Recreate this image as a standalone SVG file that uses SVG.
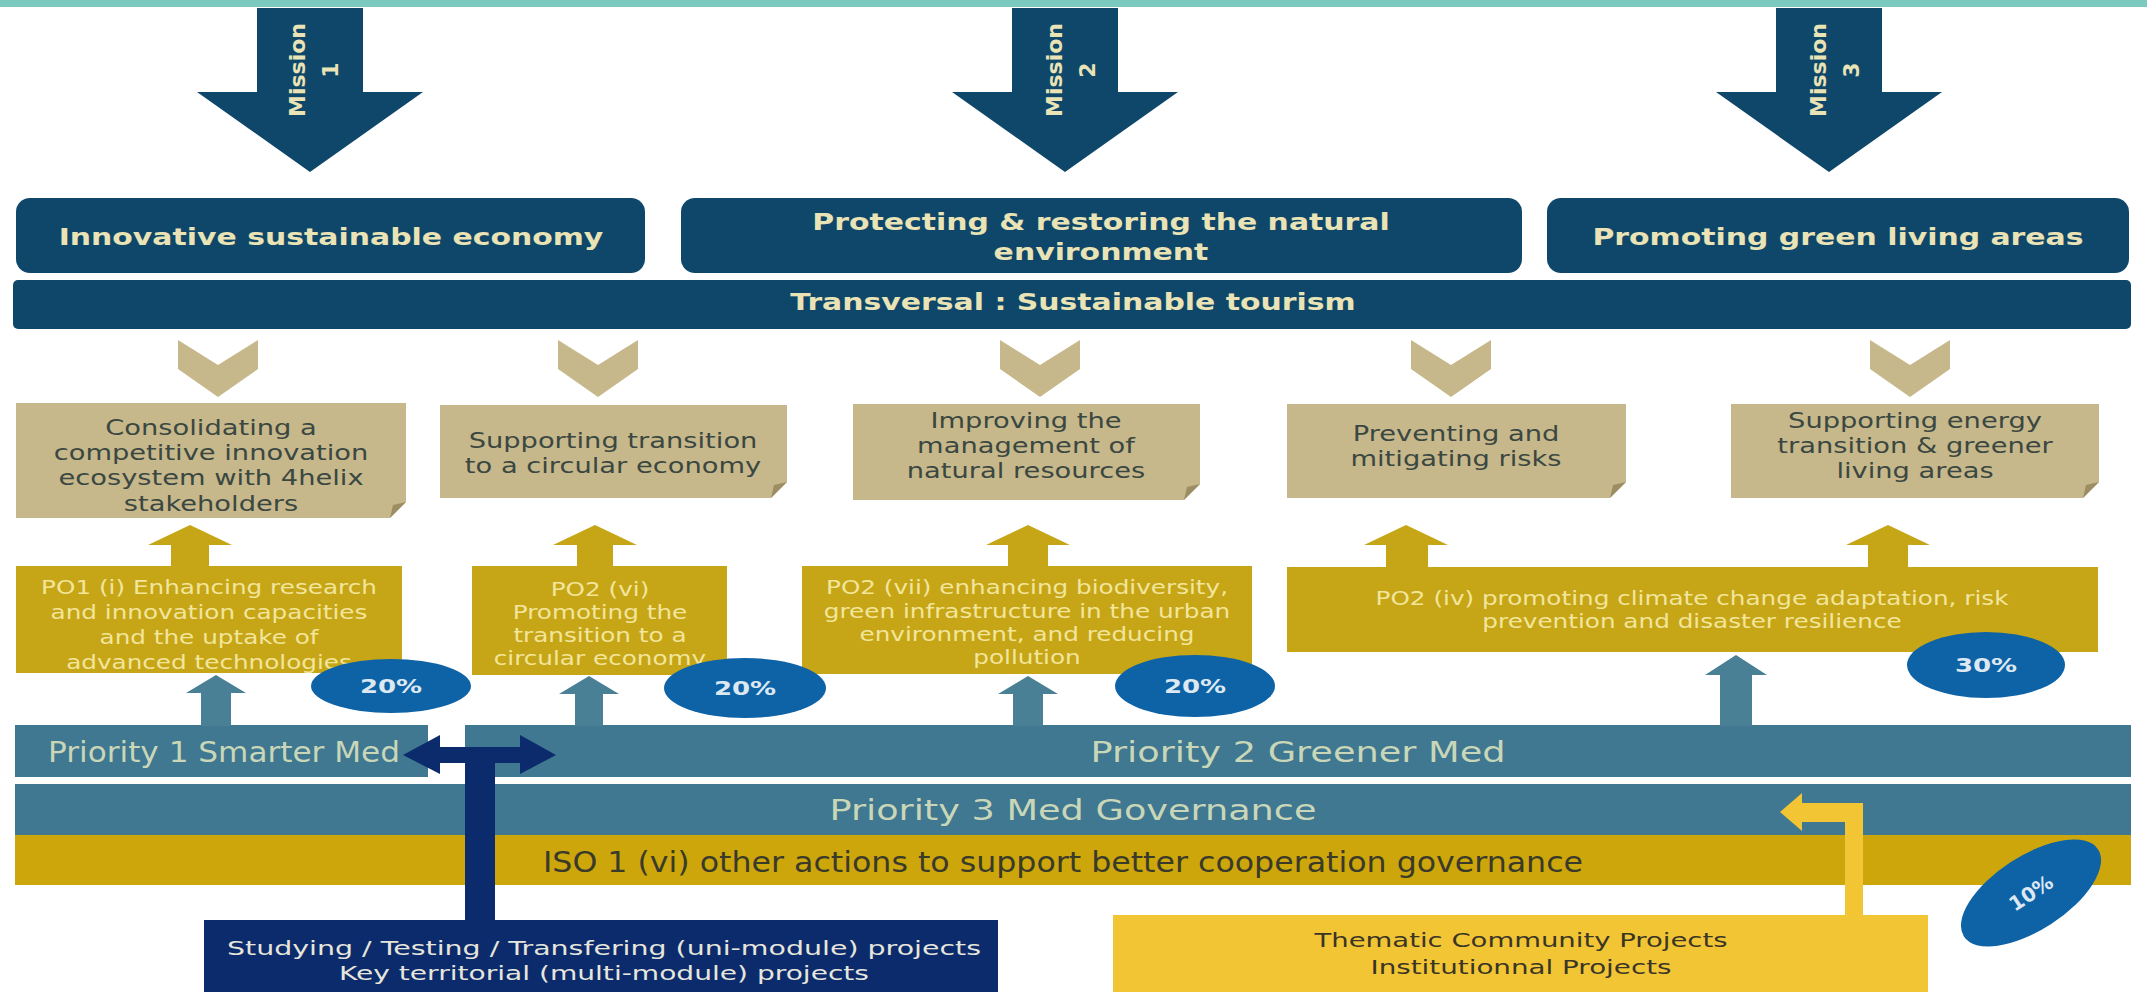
<svg xmlns="http://www.w3.org/2000/svg" width="2147" height="992" viewBox="0 0 2147 992">
<defs>
<style>
.navy{fill:#0f476a}
.cream{fill:#e9e3b6;font-family:"DejaVu Sans","Liberation Sans",sans-serif;font-weight:bold}
.tan{fill:#c6b88b}
.fold{fill:#9c8e62}
.tantext{fill:#3b4741;font-family:"DejaVu Sans","Liberation Sans",sans-serif;font-size:21px}
.gold{fill:#c6a516}
.potext{fill:#f2e59c;font-family:"DejaVu Sans","Liberation Sans",sans-serif;font-size:19px}
.band{fill:#3f7890}
.bandtext{fill:#c9d6b8;font-family:"DejaVu Sans","Liberation Sans",sans-serif;font-size:28px}
.iso{fill:#cda60b}
.tealarrow{fill:#4a8096}
.ell{fill:#0e62a6}
.elltext{fill:#dce8f2;font-family:"DejaVu Sans","Liberation Sans",sans-serif;font-weight:bold;font-size:20px}
.dark{fill:#0c2b6c}
.yellow{fill:#f2c535}
.btext{font-family:"DejaVu Sans","Liberation Sans",sans-serif;font-size:20px}
text{text-anchor:middle}
</style>
</defs>
<rect width="2147" height="992" fill="#ffffff"/>
<rect id="top-band" x="0" y="0" width="2147" height="7" fill="#7ccabf"/>

<g id="mission1">
<path class="navy" d="M257,8 H363 V92 H423 L310,172 L197,92 H257 Z"/>
<g transform="translate(311,70) rotate(-90)">
<text class="cream" x="0" y="-6" font-size="22">Mission</text>
<text class="cream" x="0" y="27" font-size="22">1</text>
</g>
</g>
<g id="mission2">
<path class="navy" d="M1012,8 H1118 V92 H1178 L1065,172 L952,92 H1012 Z"/>
<g transform="translate(1068,70) rotate(-90)">
<text class="cream" x="0" y="-6" font-size="22">Mission</text>
<text class="cream" x="0" y="27" font-size="22">2</text>
</g>
</g>
<g id="mission3">
<path class="navy" d="M1776,8 H1882 V92 H1942 L1829,172 L1716,92 H1776 Z"/>
<g transform="translate(1832,70) rotate(-90)">
<text class="cream" x="0" y="-6" font-size="22">Mission</text>
<text class="cream" x="0" y="27" font-size="22">3</text>
</g>
</g>

<g id="goal-innovative">
<rect class="navy" x="16" y="198" width="629" height="75" rx="14"/>
<g transform="translate(331,0) scale(1.3,1)"><text class="cream" x="0" y="245" font-size="23">Innovative sustainable economy</text></g>
</g>
<g id="goal-protecting">
<rect class="navy" x="681" y="198" width="841" height="75" rx="14"/>
<g transform="translate(1101,0) scale(1.3,1)">
<text class="cream" x="0" y="230" font-size="23">Protecting &amp; restoring the natural</text>
<text class="cream" x="0" y="260" font-size="23">environment</text>
</g>
</g>
<g id="goal-promoting">
<rect class="navy" x="1547" y="198" width="582" height="75" rx="14"/>
<g transform="translate(1838,0) scale(1.3,1)"><text class="cream" x="0" y="245" font-size="23">Promoting green living areas</text></g>
</g>
<g id="transversal">
<rect class="navy" x="13" y="280" width="2118" height="49" rx="5"/>
<g transform="translate(1073,0) scale(1.3,1)"><text class="cream" x="0" y="310" font-size="23">Transversal : Sustainable tourism</text></g>
</g>

<g id="obj1">
<path class="tan" d="M16,403 H406 V502 L390,518 H16 Z"/>
<path class="fold" d="M406,502 L390,518 L393,505 Z"/>
<g transform="translate(211,0) scale(1.3,1)">
<text class="tantext" x="0" y="435">Consolidating a</text>
<text class="tantext" x="0" y="460">competitive innovation</text>
<text class="tantext" x="0" y="485">ecosystem with 4helix</text>
<text class="tantext" x="0" y="511">stakeholders</text>
</g>
</g>
<g id="obj2">
<path class="tan" d="M440,405 H787 V482 L771,498 H440 Z"/>
<path class="fold" d="M787,482 L771,498 L774,485 Z"/>
<g transform="translate(613,0) scale(1.3,1)">
<text class="tantext" x="0" y="448">Supporting transition</text>
<text class="tantext" x="0" y="473">to a circular economy</text>
</g>
</g>
<g id="obj3">
<path class="tan" d="M853,404 H1200 V484 L1184,500 H853 Z"/>
<path class="fold" d="M1200,484 L1184,500 L1187,487 Z"/>
<g transform="translate(1026,0) scale(1.3,1)">
<text class="tantext" x="0" y="428">Improving the</text>
<text class="tantext" x="0" y="453">management of</text>
<text class="tantext" x="0" y="478">natural resources</text>
</g>
</g>
<g id="obj4">
<path class="tan" d="M1287,404 H1626 V482 L1610,498 H1287 Z"/>
<path class="fold" d="M1626,482 L1610,498 L1613,485 Z"/>
<g transform="translate(1456,0) scale(1.3,1)">
<text class="tantext" x="0" y="441">Preventing and</text>
<text class="tantext" x="0" y="466">mitigating risks</text>
</g>
</g>
<g id="obj5">
<path class="tan" d="M1731,404 H2099 V482 L2083,498 H1731 Z"/>
<path class="fold" d="M2099,482 L2083,498 L2086,485 Z"/>
<g transform="translate(1915,0) scale(1.3,1)">
<text class="tantext" x="0" y="428">Supporting energy</text>
<text class="tantext" x="0" y="453">transition &amp; greener</text>
<text class="tantext" x="0" y="478">living areas</text>
</g>
</g>

<g id="po1">
<rect class="gold" x="16" y="566" width="386" height="107"/>
<g transform="translate(209,0) scale(1.3,1)">
<text class="potext" x="0" y="594">PO1 (i) Enhancing research</text>
<text class="potext" x="0" y="619">and innovation capacities</text>
<text class="potext" x="0" y="644">and the uptake of</text>
<text class="potext" x="0" y="669">advanced technologies</text>
</g>
</g>
<g id="po2vi">
<rect class="gold" x="472" y="566" width="255" height="109"/>
<g transform="translate(600,0) scale(1.3,1)">
<text class="potext" x="0" y="596">PO2 (vi)</text>
<text class="potext" x="0" y="619">Promoting the</text>
<text class="potext" x="0" y="642">transition to a</text>
<text class="potext" x="0" y="665">circular economy</text>
</g>
</g>
<g id="po2vii">
<rect class="gold" x="802" y="566" width="450" height="108"/>
<g transform="translate(1027,0) scale(1.3,1)">
<text class="potext" x="0" y="594">PO2 (vii) enhancing biodiversity,</text>
<text class="potext" x="0" y="618">green infrastructure in the urban</text>
<text class="potext" x="0" y="641">environment, and reducing</text>
<text class="potext" x="0" y="664">pollution</text>
</g>
</g>
<g id="po2iv">
<rect class="gold" x="1287" y="567" width="811" height="85"/>
<g transform="translate(1692,0) scale(1.3,1)">
<text class="potext" x="0" y="605">PO2 (iv) promoting climate change adaptation, risk</text>
<text class="potext" x="0" y="628">prevention and disaster resilience</text>
</g>
</g>

<g id="priority1">
<rect class="band" x="15" y="725" width="413" height="52"/>
<text class="bandtext" x="224" y="762" textLength="352" lengthAdjust="spacingAndGlyphs">Priority 1 Smarter Med</text>
</g>
<g id="priority2">
<rect class="band" x="465" y="725" width="1666" height="52"/>
<text class="bandtext" x="1298" y="762" textLength="415" lengthAdjust="spacingAndGlyphs">Priority 2 Greener Med</text>
</g>
<g id="priority3">
<rect class="band" x="15" y="784" width="2116" height="51"/>
<text class="bandtext" x="1073" y="820" textLength="487" lengthAdjust="spacingAndGlyphs">Priority 3 Med Governance</text>
</g>
<g id="iso1">
<rect class="iso" x="15" y="835" width="2116" height="50"/>
<text class="bandtext" style="fill:#3a3a2a" x="1063" y="872" textLength="1040" lengthAdjust="spacingAndGlyphs">ISO 1 (vi) other actions to support better cooperation governance</text>
</g>

<g id="projects-modules">
<rect class="dark" x="204" y="920" width="794" height="72"/>
<text class="btext" fill="#e6e6dc" x="604" y="955" textLength="754" lengthAdjust="spacingAndGlyphs">Studying / Testing / Transfering (uni-module) projects</text>
<text class="btext" fill="#e6e6dc" x="604" y="980" textLength="530" lengthAdjust="spacingAndGlyphs">Key territorial (multi-module) projects</text>
</g>
<g id="projects-community">
<rect class="yellow" x="1113" y="915" width="815" height="77"/>
<text class="btext" fill="#3b3526" x="1521" y="947" textLength="413" lengthAdjust="spacingAndGlyphs">Thematic Community Projects</text>
<text class="btext" fill="#3b3526" x="1521" y="974" textLength="301" lengthAdjust="spacingAndGlyphs">Institutionnal Projects</text>
</g>

<g id="connectors">
<path class="tan" d="M178,340 L218,365 L258,340 V369 L218,397 L178,369 Z"/>
<path class="tan" d="M558,340 L598,365 L638,340 V369 L598,397 L558,369 Z"/>
<path class="tan" d="M1000,340 L1040,365 L1080,340 V369 L1040,397 L1000,369 Z"/>
<path class="tan" d="M1411,340 L1451,365 L1491,340 V369 L1451,397 L1411,369 Z"/>
<path class="tan" d="M1870,340 L1910,365 L1950,340 V369 L1910,397 L1870,369 Z"/>
<path class="gold" d="M190,525 L232,545 H209 V567 H171 V545 H148 Z"/>
<path class="gold" d="M595,525 L637,545 H613 V567 H577 V545 H553 Z"/>
<path class="gold" d="M1028,525 L1070,545 H1048 V567 H1008 V545 H986 Z"/>
<path class="gold" d="M1406,525 L1448,545 H1428 V568 H1386 V545 H1364 Z"/>
<path class="gold" d="M1888,525 L1930,545 H1908 V568 H1868 V545 H1846 Z"/>
<path class="tealarrow" d="M216,675 L246,693 H231 V726 H201 V693 H186 Z"/>
<path class="tealarrow" d="M589,676 L619,694 H603 V726 H575 V694 H559 Z"/>
<path class="tealarrow" d="M1028,676 L1058,694 H1043 V726 H1013 V694 H998 Z"/>
<path class="tealarrow" d="M1736,655 L1767,675 H1752 V726 H1720 V675 H1705 Z"/>
<path class="dark" d="M403,755 L440,735 V747 H520 V735 L556,755 L520,774 V763 H440 V774 Z"/>
<rect class="dark" x="465" y="747" width="30" height="174"/>
<path class="yellow" d="M1780,812 L1802,793 V803 H1863 V916 H1845 V822 H1802 V831 Z"/>
</g>

<g id="share-po1">
<ellipse class="ell" cx="391" cy="686" rx="80" ry="27"/>
<g transform="translate(391,0) scale(1.3,1)"><text class="elltext" x="0" y="693">20%</text></g>
</g>
<g id="share-po2vi">
<ellipse class="ell" cx="745" cy="688" rx="81" ry="30"/>
<g transform="translate(745,0) scale(1.3,1)"><text class="elltext" x="0" y="695">20%</text></g>
</g>
<g id="share-po2vii">
<ellipse class="ell" cx="1195" cy="686" rx="80" ry="31"/>
<g transform="translate(1195,0) scale(1.3,1)"><text class="elltext" x="0" y="693">20%</text></g>
</g>
<g id="share-po2iv">
<ellipse class="ell" cx="1986" cy="665" rx="79" ry="33"/>
<g transform="translate(1986,0) scale(1.3,1)"><text class="elltext" x="0" y="672">30%</text></g>
</g>
<g id="share-iso">
<g transform="translate(2031,893) rotate(-33)">
<ellipse class="ell" cx="0" cy="0" rx="80" ry="37"/>
<text class="elltext" x="0" y="7">10%</text>
</g>
</g>
</svg>
